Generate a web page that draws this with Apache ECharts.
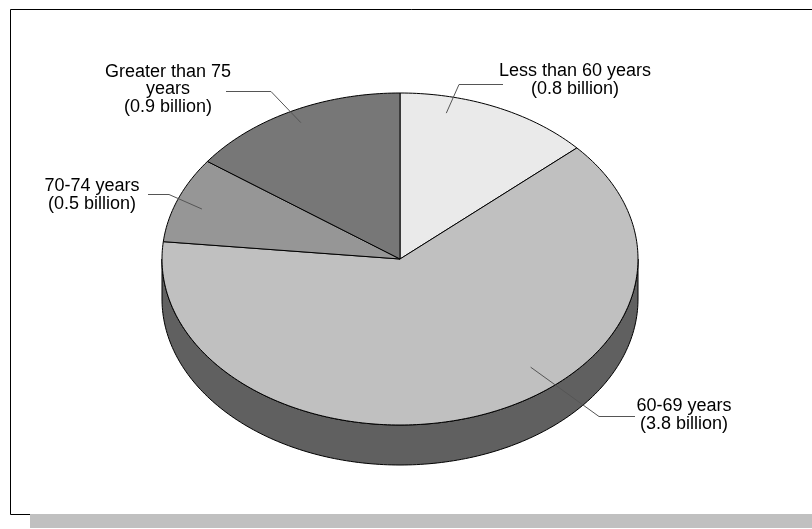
<!DOCTYPE html>
<html><head><meta charset="utf-8">
<script src="https://cdn.jsdelivr.net/npm/echarts/dist/echarts.min.js"></script>
<style>html,body{margin:0;padding:0;background:#fff}#c{width:812px;height:529px}</style>
</head><body><div id="c"></div>
<script>
// ---- data ----
const categories = ['Less than 60 years', '60-69 years', '70-74 years', 'Greater than 75 years'];
const values = [0.8, 3.8, 0.5, 0.9];
const labelTexts = [
  'Less than 60 years\n(0.8 billion)',
  '60-69 years\n(3.8 billion)',
  '70-74 years\n(0.5 billion)',
  'Greater than 75\nyears\n(0.9 billion)'
];

// ---- styles / layout ----
const topColors = ['#eaeaea', '#c0c0c0', '#969696', '#777777'];
const PIE = { cx: 400, cy: 259, rx: 238, ry: 166, depth: 40 };
// leader anchor inside slice: fraction of slice's angular span, fraction of radius
const anchorFrac = [0.26, 0.403, 0.463, 0.502];
const anchorRad = [0.90, 0.852, 0.885, 0.921];
// leader elbow, leader end and label centre (annotation layout)
const elbows = [[459, 84.5], [599, 416.5], [169, 194.5], [271, 91.5]];
const lineEnds = [[503, 84.5], [635, 416.5], [148, 194.5], [226, 91.5]];
const labelPos = [[575, 80], [684, 415], [92, 195], [168, 89.5]];

const total = values.reduce((a, b) => a + b, 0);
const startAngles = [];
values.reduce((acc, v) => { startAngles.push(acc); return acc + v / total * 360; }, 0);

function darken(hex, f) {
  const n = parseInt(hex.slice(1), 16);
  const r = Math.round(((n >> 16) & 255) * f), g = Math.round(((n >> 8) & 255) * f), b = Math.round((n & 255) * f);
  return 'rgb(' + r + ',' + g + ',' + b + ')';
}
function pt(deg, rf, dy) {
  const t = deg * Math.PI / 180;
  return [PIE.cx + PIE.rx * rf * Math.sin(t), PIE.cy - PIE.ry * rf * Math.cos(t) + dy];
}
function arc(a0, a1, dy) {
  const n = Math.max(2, Math.ceil(Math.abs(a1 - a0)));
  const out = [];
  for (let k = 0; k <= n; k++) out.push(pt(a0 + (a1 - a0) * k / n, 1, dy));
  return out;
}

function renderItem(params, api) {
  const i = params.dataIndex;
  const v = api.value(1);
  const a0 = startAngles[i];
  const a1 = a0 + v / total * 360;
  const children = [];
  // side (front half only: 90..270)
  const s = Math.max(a0, 90), e = Math.min(a1, 270);
  if (e > s) {
    const pts = arc(s, e, 0).concat(arc(e, s, PIE.depth));
    children.push({ type: 'polygon', z2: 1, shape: { points: pts },
      style: { fill: darken(topColors[i], 0.5), stroke: '#000', lineWidth: 1 } });
  }
  // top face
  const topPts = [[PIE.cx, PIE.cy]].concat(arc(a0, a1, 0));
  children.push({ type: 'polygon', z2: 10, shape: { points: topPts },
    style: { fill: topColors[i], stroke: '#000', lineWidth: 1 } });
  // leader line
  const anc = pt(a0 + (a1 - a0) * anchorFrac[i], anchorRad[i], 0);
  children.push({ type: 'polyline', z2: 20, shape: { points: [anc, elbows[i], lineEnds[i]] },
    style: { stroke: '#555', lineWidth: 1, fill: null } });
  // label
  children.push({ type: 'text', z2: 30, x: labelPos[i][0], y: labelPos[i][1],
    style: { text: labelTexts[i], align: 'center', verticalAlign: 'middle',
      font: '18px "Liberation Sans", Arial, sans-serif', lineHeight: 17.5, fill: '#000' } });
  return { type: 'group', children: children };
}

const chart = echarts.init(document.getElementById('c'), null, { renderer: 'canvas' });
chart.setOption({
  backgroundColor: '#fff',
  animation: false,
  graphic: [
    { type: 'rect', shape: { x: 10.5, y: 9.5, width: 900, height: 505 }, style: { fill: null, stroke: '#000', lineWidth: 1 }, z: 0 },
    { type: 'rect', shape: { x: 30, y: 514, width: 782, height: 14 }, style: { fill: '#c0c0c0' }, z: 1 }
  ],
  series: [{
    type: 'custom',
    coordinateSystem: 'none',
    silent: true,
    renderItem: renderItem,
    data: values.map((v, i) => ({ name: categories[i], value: [i, v] }))
  }]
});
</script></body></html>
